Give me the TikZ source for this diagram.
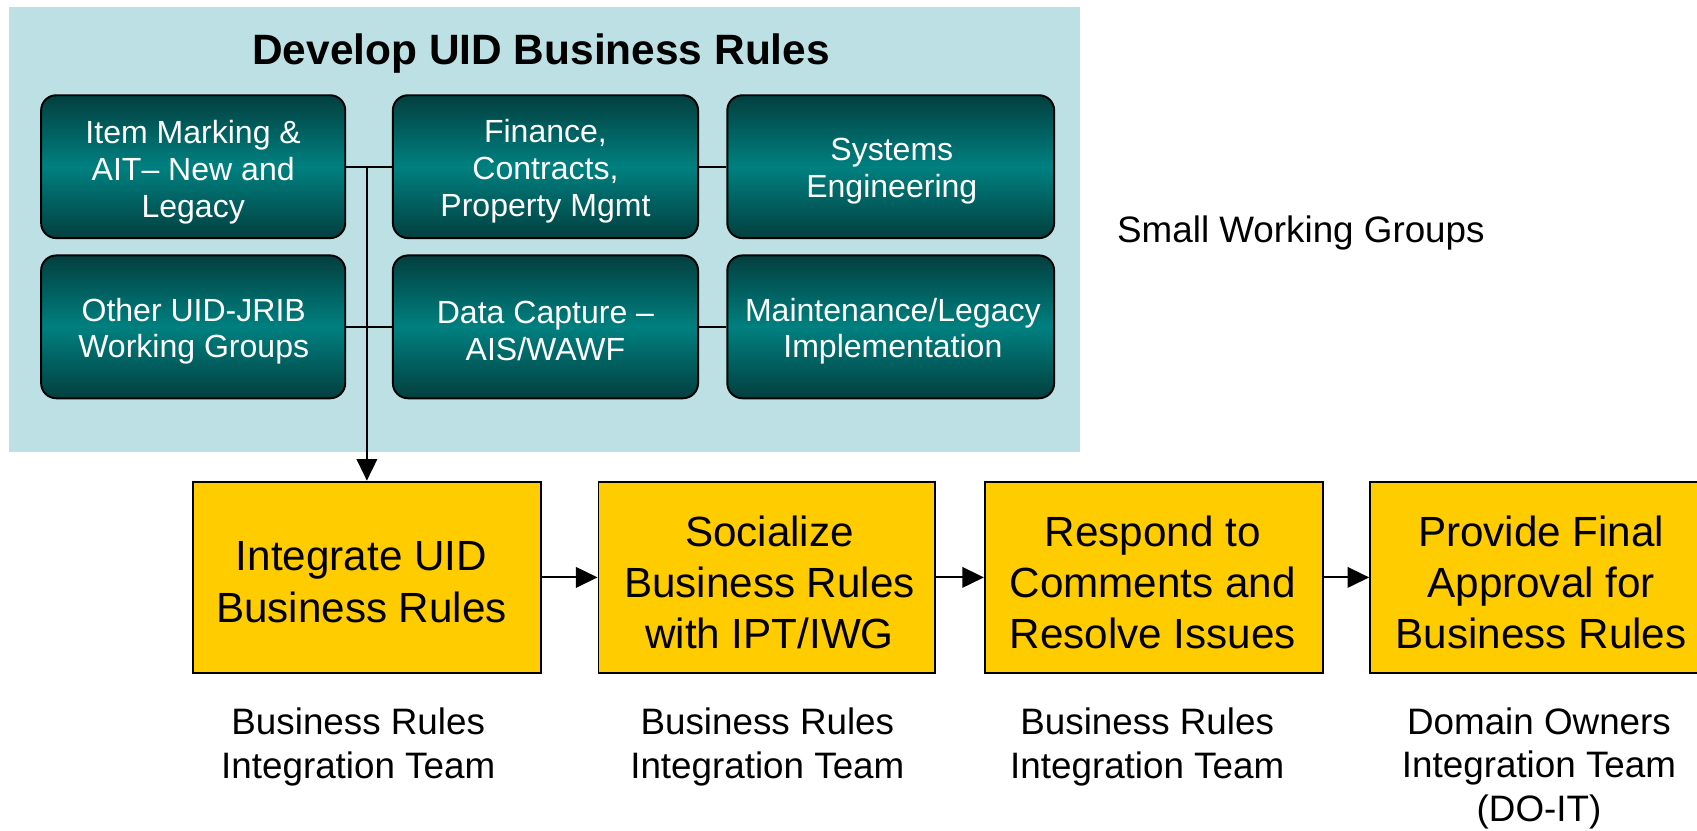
\documentclass[tikz,border=0pt]{standalone}
\usepackage{fontspec}
\setmainfont{Liberation Sans}
\usetikzlibrary{arrows.meta}
\definecolor{bgblue}{HTML}{BCE0E3}
\definecolor{tealdark}{HTML}{033F3F}
\definecolor{tealmid}{HTML}{008080}
\definecolor{gold}{HTML}{FFCC00}
\begin{document}
\begin{tikzpicture}[x=0.5pt,y=-0.5pt,
  wg/.style={draw=black, line width=0.9pt, rounded corners=7pt,
    top color=tealdark, bottom color=tealdark, middle color=tealmid,
    minimum height=66pt, inner sep=0pt},
  wgtext/.style={text=white, align=center, font=\fontsize{14.8}{17}\selectfont, inner sep=0pt},
  stepbox/.style={draw=black, line width=0.9pt, fill=gold, minimum height=88.5pt, inner sep=0pt},
  steptext/.style={align=center, font=\fontsize{19.5}{23.7}\selectfont, inner sep=0pt},
  lbl/.style={align=center, font=\fontsize{17}{20.3}\selectfont, inner sep=0pt},
  conn/.style={line width=0.9pt},
  arr/.style={line width=0.9pt, -{Triangle[length=10pt,width=9.5pt]}}]
\useasboundingbox (0,0) rectangle (1568,767);
\clip (0,0) rectangle (1568,767);
\fill[bgblue] (8,6) rectangle (998,418);
\node[font=\bfseries\fontsize{19.6}{23}\selectfont] (title) at (500,49) {Develop UID Business Rules};
% working groups
\node[wg, minimum width=140.5pt] (A) at (178.5,154) {};
\node[wg, minimum width=141pt] (B) at (504,154) {};
\node[wg, minimum width=151pt] (C) at (823,154) {};
\node[wg, minimum width=140.5pt] (D) at (178.5,302) {};
\node[wg, minimum width=141pt] (E) at (504,302) {};
\node[wg, minimum width=151pt] (F) at (823,302) {};
\node[wgtext] (At) at (178.5,159) {Item Marking \&\\AIT– New and\\Legacy};
\node[wgtext] (Bt) at (504,158) {Finance,\\Contracts,\\Property Mgmt};
\node[wgtext] (Ct) at (824,158) {Systems\\Engineering};
\node[wgtext] (Dt) at (179,306) {Other UID-JRIB\\Working Groups};
\node[wgtext] (Et) at (504,306) {Data Capture –\\AIS/WAWF};
\node[wgtext] (Ft) at (825,306) {Maintenance/Legacy\\Implementation};
\node[lbl] (swg) at (1202,215) {Small Working Groups};
% process steps
\node[stepbox, minimum width=161pt] (S1) at (339,533.5) {};
\node[stepbox, minimum width=155.5pt] (S2) at (708.5,533.5) {};
\node[stepbox, minimum width=156pt] (S3) at (1066,533.5) {};
\node[stepbox, minimum width=156pt] (S4) at (1422,533.5) {};
\node[steptext] (S1t) at (334,538) {Integrate UID\\Business Rules};
\node[steptext] (S2t) at (711,538) {Socialize\\Business Rules\\with IPT/IWG};
\node[steptext] (S3t) at (1065,538) {Respond to\\Comments and\\Resolve Issues};
\node[steptext] (S4t) at (1424,538) {Provide Final\\Approval for\\Business Rules};
% labels
\node[lbl] (L1) at (331,690) {Business Rules\\Integration Team};
\node[lbl] (L2) at (709,690) {Business Rules\\Integration Team};
\node[lbl] (L3) at (1060,690) {Business Rules\\Integration Team};
\node[lbl] (L4) at (1422,710) {Domain Owners\\Integration Team\\(DO-IT)};
% connectors
\coordinate (j) at (339,154);
\draw[conn] (A.east) -- (j);
\draw[conn] (j) -- (B.west);
\draw[conn] (B.east) -- (C.west);
\draw[conn] (D.east) -- (E.west);
\draw[conn] (E.east) -- (F.west);
\draw[arr] (j) -- (S1.north);
\draw[arr] (S1.east) -- (S2.west);
\draw[arr] (S2.east) -- (S3.west);
\draw[arr] (S3.east) -- (S4.west);
\end{tikzpicture}
\end{document}
